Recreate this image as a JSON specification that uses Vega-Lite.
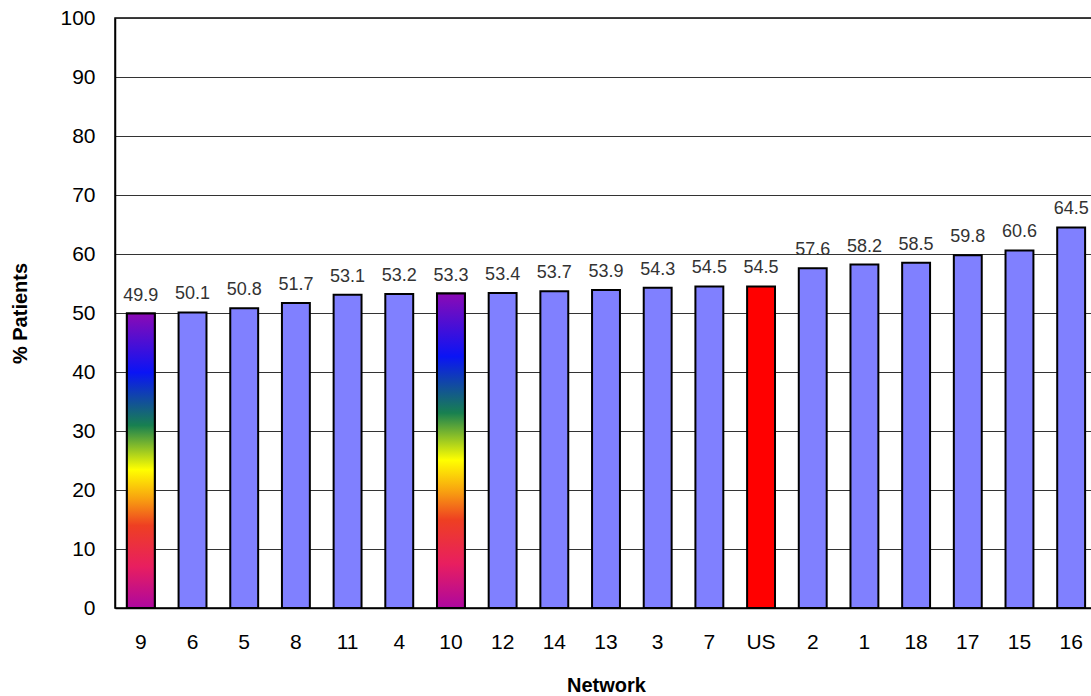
{
  "$schema": "https://vega.github.io/schema/vega-lite/v6.json",
  "autosize": "none",
  "padding": {"left": 115, "top": 18, "right": 0, "bottom": 88},
  "width": 982,
  "height": 590,
  "background": "white",
  "config": {
    "font": "Liberation Sans",
    "view": {"stroke": "black", "strokeWidth": 1.5}
  },
  "data": {
    "values": [
      {"Network": "9", "Percent": 49.9},
      {"Network": "6", "Percent": 50.1},
      {"Network": "5", "Percent": 50.8},
      {"Network": "8", "Percent": 51.7},
      {"Network": "11", "Percent": 53.1},
      {"Network": "4", "Percent": 53.2},
      {"Network": "10", "Percent": 53.3},
      {"Network": "12", "Percent": 53.4},
      {"Network": "14", "Percent": 53.7},
      {"Network": "13", "Percent": 53.9},
      {"Network": "3", "Percent": 54.3},
      {"Network": "7", "Percent": 54.5},
      {"Network": "US", "Percent": 54.5},
      {"Network": "2", "Percent": 57.6},
      {"Network": "1", "Percent": 58.2},
      {"Network": "18", "Percent": 58.5},
      {"Network": "17", "Percent": 59.8},
      {"Network": "15", "Percent": 60.6},
      {"Network": "16", "Percent": 64.5}
    ]
  },
  "encoding": {
    "x": {
      "field": "Network",
      "type": "nominal",
      "sort": null,
      "scale": {"paddingInner": 0.46, "paddingOuter": 0.23},
      "axis": {
        "title": "Network",
        "titleFontSize": 20,
        "titleFontWeight": "bold",
        "titleColor": "black",
        "titlePadding": 23,
        "labelFontSize": 21,
        "labelColor": "black",
        "labelAngle": 0,
        "labelPadding": 23,
        "ticks": false,
        "domainColor": "black",
        "domainWidth": 1.5,
        "grid": false
      }
    },
    "y": {
      "field": "Percent",
      "type": "quantitative",
      "scale": {"domain": [0, 100], "nice": false},
      "axis": {
        "title": "% Patients",
        "titleFontSize": 20,
        "titleFontWeight": "bold",
        "titleColor": "black",
        "titlePadding": 29,
        "labelFontSize": 21,
        "labelColor": "black",
        "labelPadding": 20,
        "values": [0, 10, 20, 30, 40, 50, 60, 70, 80, 90, 100],
        "ticks": false,
        "domainColor": "black",
        "domainWidth": 1.5,
        "grid": true,
        "gridColor": "#333333",
        "gridWidth": 1
      }
    }
  },
  "layer": [
    {
      "mark": {"type": "bar", "stroke": "black", "strokeWidth": 2},
      "encoding": {
        "color": {
          "condition": {"test": "datum.Network === 'US'", "value": "#FF0000"},
          "value": "#8080FF"
        }
      }
    },
    {
      "transform": [{"filter": "datum.Network === '9' || datum.Network === '10'"}],
      "mark": {
        "type": "bar",
        "stroke": "black",
        "strokeWidth": 2,
        "fill": {
          "gradient": "linear",
          "x1": 0, "y1": 0, "x2": 0, "y2": 1,
          "stops": [
            {"offset": 0, "color": "#8B0AB5"},
            {"offset": 0.2, "color": "#0A14F5"},
            {"offset": 0.38, "color": "#188050"},
            {"offset": 0.53, "color": "#FFFF00"},
            {"offset": 0.63, "color": "#F8A010"},
            {"offset": 0.72, "color": "#EE3F22"},
            {"offset": 0.86, "color": "#E81E60"},
            {"offset": 1, "color": "#AD079F"}
          ]
        }
      }
    },
    {
      "mark": {"type": "text", "baseline": "bottom", "dy": -9, "fontSize": 18, "color": "#333333"},
      "encoding": {"text": {"field": "Percent", "type": "quantitative", "format": ".1f"}}
    }
  ]
}
